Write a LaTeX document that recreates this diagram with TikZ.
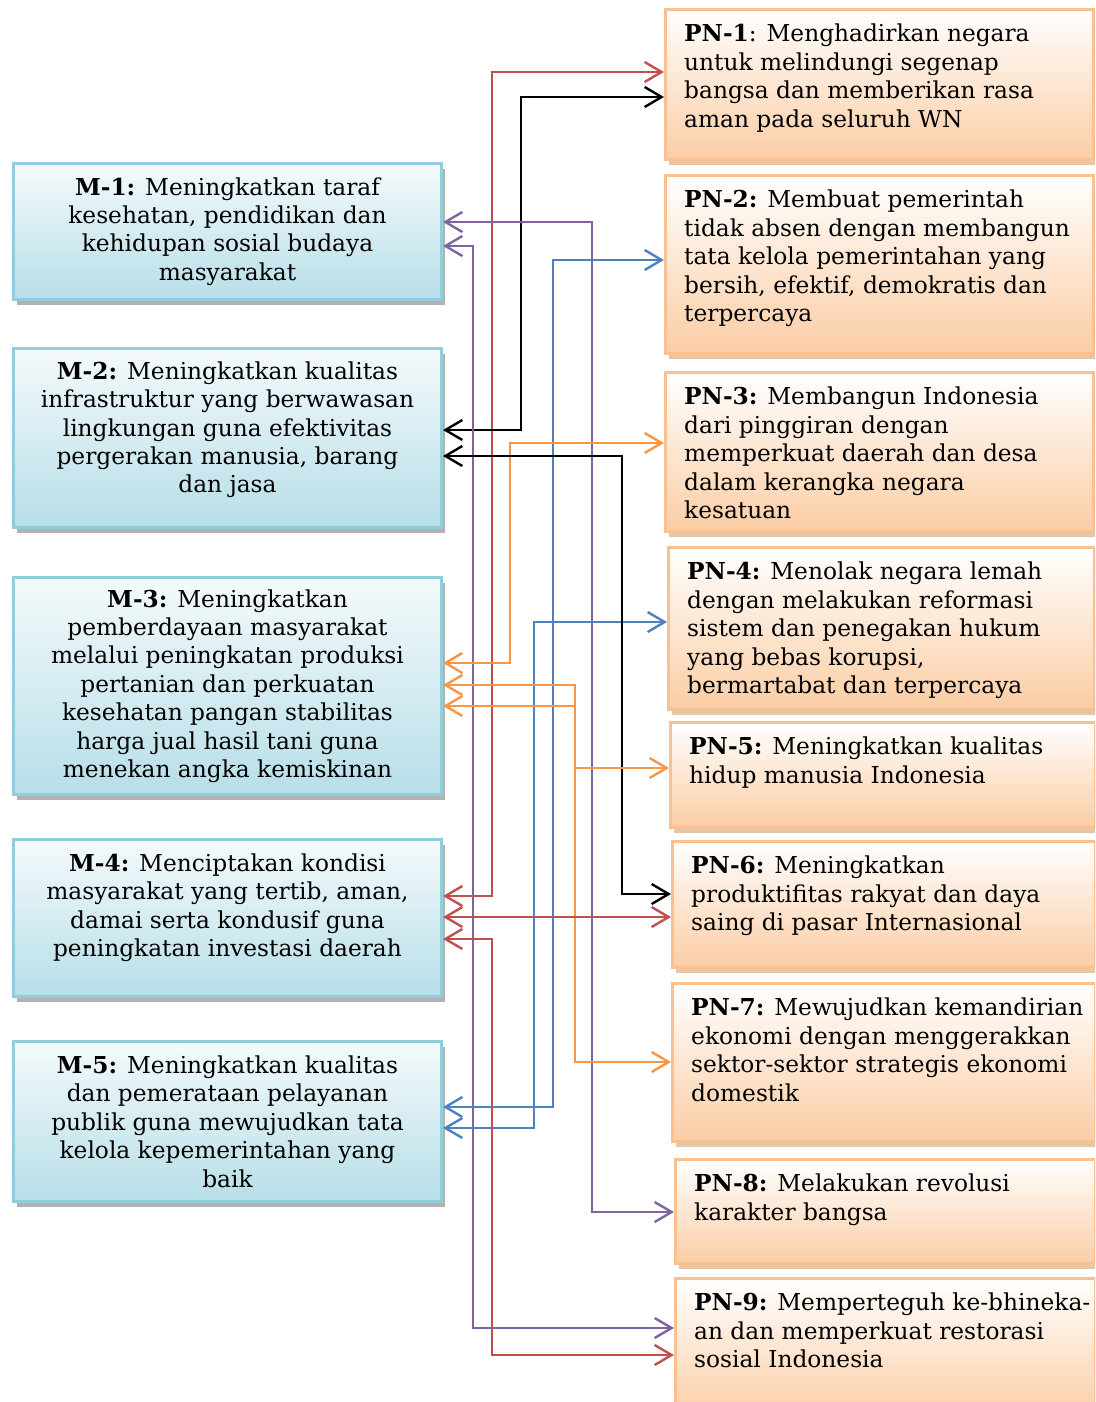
\documentclass[tikz,border=0pt]{standalone}
\usepackage{fontspec}
\setmainfont{DejaVu Serif}
\usetikzlibrary{arrows.meta,shadows}

\definecolor{mline}{HTML}{93CDDD}
\definecolor{mfill}{HTML}{B7DEE8}
\definecolor{pnline}{HTML}{FAC090}
\definecolor{pnfill}{HTML}{FBCDA4}
\definecolor{cred}{HTML}{C0504D}
\definecolor{cblue}{HTML}{4F81BD}
\definecolor{cpurple}{HTML}{8064A2}
\definecolor{corange}{HTML}{F79646}

\tikzset{
    mbox/.style={draw=mline, line width=3pt, top color=white!85!mfill, bottom color=mfill,
        minimum width=428pt, anchor=north west, align=center, inner sep=0pt,
        drop shadow={shadow xshift=3pt, shadow yshift=-5pt, fill=gray!75, opacity=0.8}},
    pnbox/.style={draw=pnline, line width=3pt, top color=white, bottom color=pnfill,
        anchor=north west,
        drop shadow={shadow xshift=3pt, shadow yshift=-5pt, fill=brown!55, opacity=0.8}},
    pntext/.style={anchor=north west, align=left, inner sep=0pt},
    link/.style={<->, line width=2.4pt, >={Straight Barb[length=17pt,width=20pt]}}
}

\begin{document}
\begin{tikzpicture}[x=1pt, y=-1pt, font=\fontsize{23.3}{28.4}\selectfont]
    \path[use as bounding box, clip] (0,0) rectangle (1095,1402);

    % misi (kiri)
    \node[mbox, minimum height=136pt] (m1) at (12,162)
        {\textbf{M-1:} Meningkatkan taraf\\ kesehatan, pendidikan dan\\ kehidupan sosial budaya\\ masyarakat};
    \node[mbox, minimum height=179pt, text depth=21.5pt] (m2) at (12,347)
        {\textbf{M-2:} Meningkatkan kualitas\\ infrastruktur yang berwawasan\\ lingkungan guna efektivitas\\ pergerakan manusia, barang\\ dan jasa};
    \node[mbox, minimum height=217pt] (m3) at (12,576)
        {\textbf{M-3:} Meningkatkan\\ pemberdayaan masyarakat\\ melalui peningkatan produksi\\ pertanian dan perkuatan\\ kesehatan pangan stabilitas\\ harga jual hasil tani guna\\ menekan angka kemiskinan};
    \node[mbox, minimum height=157pt, text depth=25.5pt] (m4) at (12,838)
        {\textbf{M-4:} Menciptakan kondisi\\ masyarakat yang tertib, aman,\\ damai serta kondusif guna\\ peningkatan investasi daerah};
    \node[mbox, minimum height=160pt] (m5) at (12,1040)
        {\textbf{M-5:} Meningkatkan kualitas\\ dan pemerataan pelayanan\\ publik guna mewujudkan tata\\ kelola kepemerintahan yang\\ baik};

    % nawacita (kanan)
    \node[pnbox, minimum width=428pt, minimum height=150pt] (pn1) at (664,8) {};
    \node[pnbox, minimum width=428pt, minimum height=178pt] (pn2) at (664,174) {};
    \node[pnbox, minimum width=428pt, minimum height=159pt] (pn3) at (664,371) {};
    \node[pnbox, minimum width=426pt, minimum height=162pt] (pn4) at (667,546) {};
    \node[pnbox, minimum width=425pt, minimum height=105pt] (pn5) at (669,721) {};
    \node[pnbox, minimum width=423pt, minimum height=126pt] (pn6) at (671,840) {};
    \node[pnbox, minimum width=423pt, minimum height=158pt] (pn7) at (671,982) {};
    \node[pnbox, minimum width=420pt, minimum height=104pt] (pn8) at (674,1158) {};
    \node[pnbox, minimum width=420pt, minimum height=140pt] (pn9) at (674,1277) {};

    \node[pntext] (t1) at ([xshift=20pt,yshift=-16pt]pn1.north west)
        {\textbf{PN-1}: Menghadirkan negara\\ untuk melindungi segenap\\ bangsa dan memberikan rasa\\ aman pada seluruh WN};
    \node[pntext] (t2) at ([xshift=20pt,yshift=-16pt]pn2.north west)
        {\textbf{PN-2:} Membuat pemerintah\\ tidak absen dengan membangun\\ tata kelola pemerintahan yang\\ bersih, efektif, demokratis dan\\ terpercaya};
    \node[pntext] (t3) at ([xshift=20pt,yshift=-16pt]pn3.north west)
        {\textbf{PN-3:} Membangun Indonesia\\ dari pinggiran dengan\\ memperkuat daerah dan desa\\ dalam kerangka negara\\ kesatuan};
    \node[pntext] (t4) at ([xshift=20pt,yshift=-16pt]pn4.north west)
        {\textbf{PN-4:} Menolak negara lemah\\ dengan melakukan reformasi\\ sistem dan penegakan hukum\\ yang bebas korupsi,\\ bermartabat dan terpercaya};
    \node[pntext] (t5) at ([xshift=20pt,yshift=-16pt]pn5.north west)
        {\textbf{PN-5:} Meningkatkan kualitas\\ hidup manusia Indonesia};
    \node[pntext] (t6) at ([xshift=20pt,yshift=-16pt]pn6.north west)
        {\textbf{PN-6:} Meningkatkan\\ produktifitas rakyat dan daya\\ saing di pasar Internasional};
    \node[pntext] (t7) at ([xshift=20pt,yshift=-16pt]pn7.north west)
        {\textbf{PN-7:} Mewujudkan kemandirian\\ ekonomi dengan menggerakkan\\ sektor-sektor strategis ekonomi\\ domestik};
    \node[pntext] (t8) at ([xshift=20pt,yshift=-16pt]pn8.north west)
        {\textbf{PN-8:} Melakukan revolusi\\ karakter bangsa};
    \node[pntext] (t9) at ([xshift=20pt,yshift=-16pt]pn9.north west)
        {\textbf{PN-9:} Memperteguh ke-bhineka-\\ an dan memperkuat restorasi\\ sosial Indonesia};

    % keterkaitan misi - nawacita
    \foreach \mn/\ya/\xv/\pn/\yb/\col in {
        m4/896/492/pn1/72/cred, m2/430/521/pn1/97/black,
        m1/222/592/pn8/1212/cpurple, m1/246/473/pn9/1328/cpurple,
        m5/1107/553/pn2/260/cblue, m5/1128/534/pn4/622/cblue,
        m3/663/510/pn3/443/corange, m2/456/622/pn6/894/black,
        m3/685/575/pn5/768/corange, m3/706/575/pn7/1062/corange,
        m4/917/600/pn6/917/cred, m4/939/492/pn9/1355/cred}
        \draw[link, color=\col] (\mn.east |- 0,\ya) -| (\xv,\yb) -- (\pn.west |- 0,\yb);
\end{tikzpicture}
\end{document}
